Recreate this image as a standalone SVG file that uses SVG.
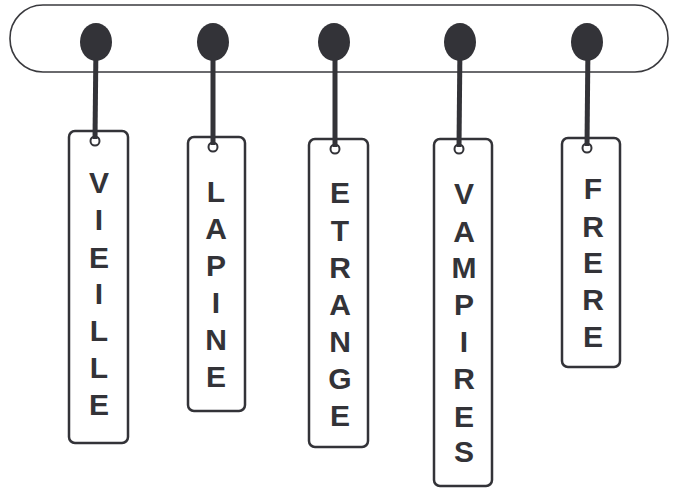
<svg xmlns="http://www.w3.org/2000/svg" width="678" height="488" viewBox="0 0 678 488">
<style>
.bar{fill:#fff;stroke:#3a3a3e;stroke-width:1.6}
.peg{fill:#333338}
.stem{stroke:#333338;stroke-width:5;fill:none}
.tag{fill:#fff;stroke:#333338;stroke-width:2.5}
.hole{fill:#fff;stroke:#333338;stroke-width:2}
text{font-family:"Liberation Sans",Arial,sans-serif;font-weight:bold;font-size:30px;fill:#333338;text-anchor:middle}
</style>
<rect class="bar" x="10" y="5" width="658" height="67" rx="33" ry="33"/>
<g id="tag-vieille">
<rect class="tag" x="69" y="131" width="59" height="312" rx="6"/>
<circle class="hole" cx="95" cy="141" r="4.5"/>
<text x="99" y="193">V</text><text x="99" y="230">I</text><text x="99" y="268">E</text><text x="99" y="304">I</text><text x="99" y="341">L</text><text x="99" y="378">L</text><text x="99" y="415">E</text>
</g>
<g id="tag-lapine">
<rect class="tag" x="188" y="137" width="57" height="274" rx="6"/>
<circle class="hole" cx="213" cy="147" r="4.5"/>
<text x="216" y="202">L</text><text x="216" y="239">A</text><text x="216" y="276">P</text><text x="216" y="313">I</text><text x="216" y="350">N</text><text x="216" y="387">E</text>
</g>
<g id="tag-etrange">
<rect class="tag" x="309" y="139" width="59" height="308" rx="6"/>
<circle class="hole" cx="335" cy="149" r="4.5"/>
<text x="340" y="203">E</text><text x="340" y="241">T</text><text x="340" y="278">R</text><text x="340" y="315">A</text><text x="340" y="352">N</text><text x="340" y="389">G</text><text x="340" y="426">E</text>
</g>
<g id="tag-vampires">
<rect class="tag" x="434" y="139" width="58" height="347" rx="6"/>
<circle class="hole" cx="459" cy="149" r="4.5"/>
<text x="464" y="204">V</text><text x="464" y="242">A</text><text x="464" y="278">M</text><text x="464" y="315">P</text><text x="464" y="352">I</text><text x="464" y="389">R</text><text x="464" y="427">E</text><text x="464" y="462">S</text>
</g>
<g id="tag-frere">
<rect class="tag" x="562" y="138" width="58" height="229" rx="6"/>
<circle class="hole" cx="587" cy="148" r="4.5"/>
<text x="593" y="199">F</text><text x="593" y="237">R</text><text x="593" y="273">E</text><text x="593" y="310">R</text><text x="593" y="347">E</text>
</g>
<g id="connectors">
<line class="stem" x1="96" y1="42" x2="95" y2="139"/>
<line class="stem" x1="213" y1="42" x2="213" y2="145"/>
<line class="stem" x1="335" y1="42" x2="335" y2="147"/>
<line class="stem" x1="460" y1="42" x2="459" y2="147"/>
<line class="stem" x1="588" y1="42" x2="587" y2="146"/>
</g>
<g id="peg1"><ellipse class="peg" cx="96" cy="42" rx="16" ry="19"/></g>
<g id="peg2"><ellipse class="peg" cx="213" cy="42" rx="16" ry="19"/></g>
<g id="peg3"><ellipse class="peg" cx="334" cy="42" rx="16" ry="19"/></g>
<g id="peg4"><ellipse class="peg" cx="460" cy="42" rx="16" ry="19"/></g>
<g id="peg5"><ellipse class="peg" cx="587" cy="42" rx="16" ry="19"/></g>
</svg>
